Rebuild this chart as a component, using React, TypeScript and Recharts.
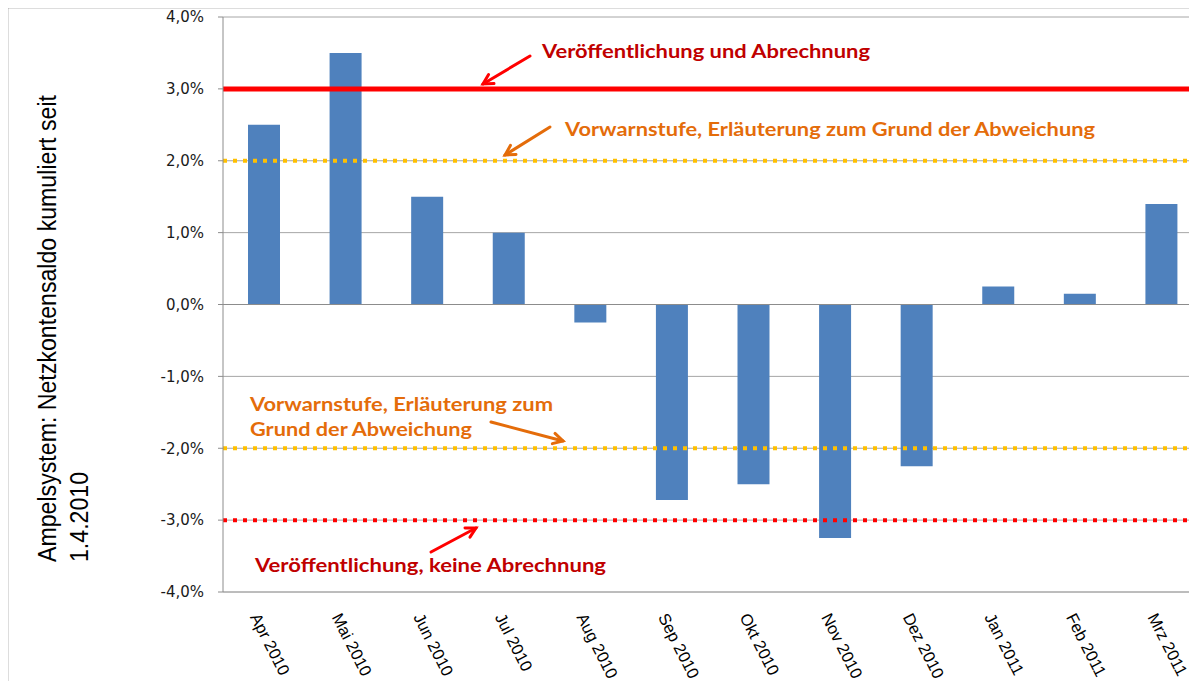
import React from "react";
import {
  BarChart,
  Bar,
  XAxis,
  YAxis,
  CartesianGrid,
  ReferenceLine,
} from "recharts";

const months = [
  "Apr 2010",
  "Mai 2010",
  "Jun 2010",
  "Jul 2010",
  "Aug 2010",
  "Sep 2010",
  "Okt 2010",
  "Nov 2010",
  "Dez 2010",
  "Jan 2011",
  "Feb 2011",
  "Mrz 2011",
];

const saldo = [2.5, 3.5, 1.5, 1.0, -0.25, -2.72, -2.5, -3.25, -2.25, 0.25, 0.15, 1.4];

const yTicks = [-4, -3, -2, -1, 0, 1, 2, 3, 4];

const data = months.map((name, i) => ({ name, value: saldo[i] }));

const fmt = (v: number) => `${v.toFixed(1).replace(".", ",")}%`;

const XTick = (props: { x?: number; y?: number; payload?: { value: string } }) => {
  const { x = 0, y = 0, payload } = props;
  return (
    <g transform={`translate(${x - 14},${y + 25})`}>
      <text
        transform="rotate(63)"
        textAnchor="start"
        fontFamily="'Liberation Sans', Arial, sans-serif"
        fontSize={16.5}
        fill="#000"
      >
        {payload?.value}
      </text>
    </g>
  );
};

// small open arrow drawn in the overlay
const Arrow = ({
  x1,
  y1,
  x2,
  y2,
  color,
}: {
  x1: number;
  y1: number;
  x2: number;
  y2: number;
  color: string;
}) => {
  const a = Math.atan2(y2 - y1, x2 - x1);
  const h = 11;
  const s = 0.5;
  const p1 = [x2 - h * Math.cos(a - s), y2 - h * Math.sin(a - s)];
  const p2 = [x2 - h * Math.cos(a + s), y2 - h * Math.sin(a + s)];
  return (
    <g stroke={color} strokeWidth={3} fill="none" strokeLinecap="round">
      <line x1={x1} y1={y1} x2={x2} y2={y2} />
      <polyline points={`${p1[0]},${p1[1]} ${x2},${y2} ${p2[0]},${p2[1]}`} />
    </g>
  );
};

const note = {
  fontFamily: "Lato, 'Open Sans', sans-serif",
  fontWeight: 700,
  fontSize: 18,
} as const;

export default function App() {
  return (
    <div
      style={{
        margin: -8,
        width: 1197,
        height: 689,
        overflow: "hidden",
        position: "relative",
        background: "#fff",
      }}
    >
      <div style={{ position: "absolute", left: 0, top: 0 }}>
        <BarChart
          width={1210}
          height={689}
          data={data}
          margin={{ top: 17, left: 163, right: 8, bottom: 7 }}
          barSize={32}
        >
          <CartesianGrid vertical={false} stroke="#a6a6a6" strokeWidth={1} />
          <XAxis
            dataKey="name"
            height={90}
            interval={0}
            tickLine={false}
            tickSize={0}
            tickMargin={0}
            axisLine={{ stroke: "#a6a6a6" }}
            tick={<XTick />}
          />
          <YAxis
            width={60}
            domain={[-4, 4]}
            ticks={yTicks}
            tickFormatter={fmt}
            interval={0}
            tickSize={5}
            tickMargin={14}
            axisLine={{ stroke: "#8c8c8c" }}
            tickLine={{ stroke: "#8c8c8c" }}
            tick={{
              fill: "#1a1a1a",
              fontSize: 15,
              fontFamily: "'DejaVu Sans', Verdana, sans-serif",
            }}
          />
          <Bar dataKey="value" fill="#4f81bd" isAnimationActive={false} />
          <ReferenceLine y={0} stroke="#8c8c8c" />
          <ReferenceLine y={3} stroke="#ff0000" strokeWidth={5} />
          <ReferenceLine y={2} stroke="#ffc000" strokeWidth={4} strokeDasharray="4 6" />
          <ReferenceLine y={-2} stroke="#ffc000" strokeWidth={4} strokeDasharray="4 6" />
          <ReferenceLine y={-3} stroke="#ff0000" strokeWidth={4} strokeDasharray="4 6" />
        </BarChart>
      </div>
      <svg
        width={1197}
        height={689}
        style={{ position: "absolute", left: 0, top: 0, pointerEvents: "none" }}
      >
        <line x1={7.5} y1={7} x2={7.5} y2={689} stroke="#7a7a7a" strokeWidth={1.5} />
        <line x1={7} y1={7.5} x2={1197} y2={7.5} stroke="#7a7a7a" strokeWidth={1.5} />
        <g
          fontFamily="'Liberation Sans Narrow', 'Liberation Sans', Arial, sans-serif"
          fontSize={26}
          fill="#000"
        >
          <text
            transform="translate(56,562) rotate(-90)"
            textLength={467}
            lengthAdjust="spacingAndGlyphs"
          >
            Ampelsystem: Netzkontensaldo kumuliert seit
          </text>
          <text
            transform="translate(88,562) rotate(-90)"
            textLength={90}
            lengthAdjust="spacingAndGlyphs"
          >
            1.4.2010
          </text>
        </g>

        <text x={542} y={58} fill="#c00000" textLength={328} lengthAdjust="spacingAndGlyphs" {...note}>
          Veröffentlichung und Abrechnung
        </text>
        <Arrow x1={530} y1={56} x2={483} y2={84} color="#ff0000" />

        <text x={565} y={136} fill="#e46c0a" textLength={530} lengthAdjust="spacingAndGlyphs" {...note}>
          Vorwarnstufe, Erläuterung zum Grund der Abweichung
        </text>
        <Arrow x1={550} y1={127} x2={505} y2={155} color="#e46c0a" />

        <text x={250} y={411} fill="#e46c0a" textLength={303} lengthAdjust="spacingAndGlyphs" {...note}>
          Vorwarnstufe, Erläuterung zum
        </text>
        <text x={250} y={436} fill="#e46c0a" textLength={222} lengthAdjust="spacingAndGlyphs" {...note}>
          Grund der Abweichung
        </text>
        <Arrow x1={491} y1={422} x2={563} y2={441} color="#e46c0a" />

        <text x={255} y={572} fill="#c00000" textLength={351} lengthAdjust="spacingAndGlyphs" {...note}>
          Veröffentlichung, keine Abrechnung
        </text>
        <Arrow x1={431} y1={552} x2={476} y2={528} color="#ff0000" />
      </svg>
    </div>
  );
}
